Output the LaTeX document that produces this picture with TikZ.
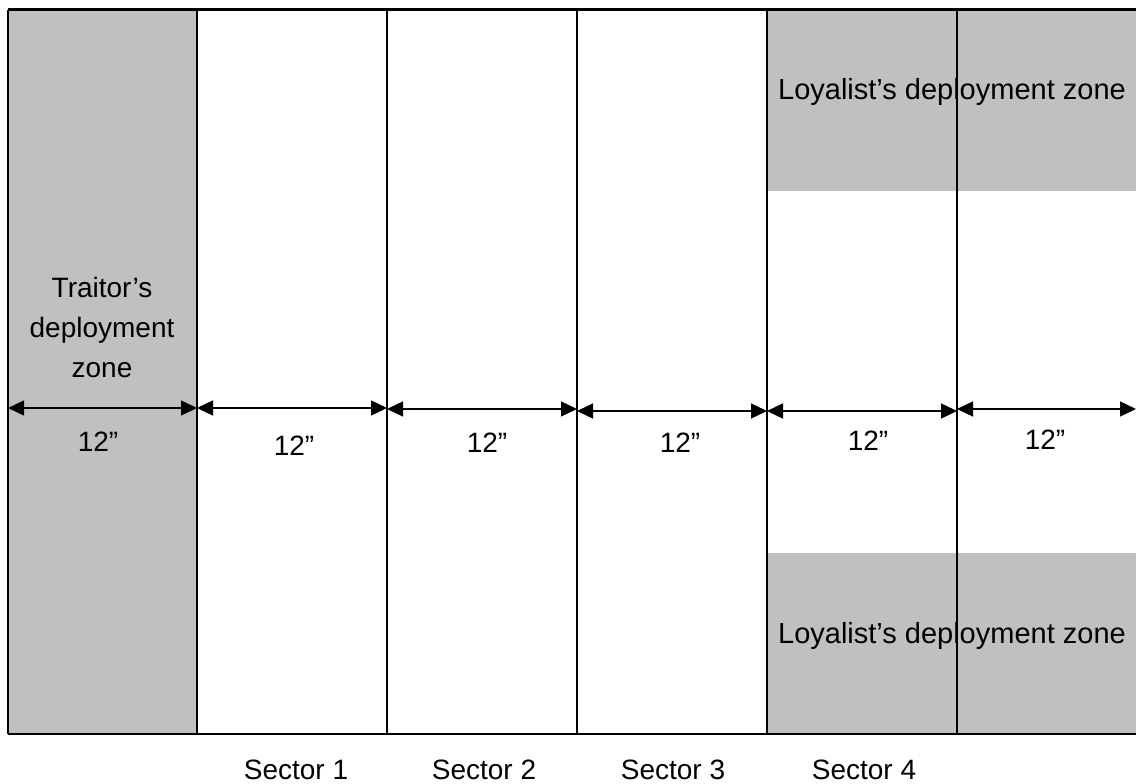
\documentclass[tikz,border=0pt]{standalone}
\usepackage{fontspec}
\setmainfont{Liberation Sans}
\usetikzlibrary{arrows.meta}
\definecolor{zonegray}{HTML}{C0C0C0}
\tikzset{
  zone/.style={fill=zonegray, draw=none},
  boardline/.style={line width=2pt, black},
  dim/.style={line width=1.4pt, {Triangle[length=16pt,width=15pt]}-{Triangle[length=16pt,width=15pt]}},
  lbl/.style={font=\fontsize{28}{33}\selectfont, inner sep=0pt},
  big/.style={font=\fontsize{29}{40}\selectfont, inner sep=0pt}
}
\begin{document}
\begin{tikzpicture}[x=1pt,y=-1pt]
\useasboundingbox (0,0) rectangle (1136,784);
\fill[white] (0,0) rectangle (1136,784);
% zones
\fill[zone] (8,10) rectangle (197,734);
\fill[zone] (767,10) rectangle (1136,191);
\fill[zone] (767,553) rectangle (1136,734);
% board lines
\draw[boardline, line width=3pt] (8,10) -- (1136,10);
\draw[boardline] (8,734) -- (1136,734);
\foreach \x in {8,197,387,577,767,957} \draw[boardline] (\x,10) -- (\x,734);
% texts
\node[lbl, align=center] (traitor) at (102,327) {Traitor’s\\[7pt]deployment\\[7pt]zone};
\node[big] (loytop) at (952,92) {Loyalist’s deployment zone};
\node[big] (loybot) at (952,636) {Loyalist’s deployment zone};
% dimension arrows
\coordinate (a0) at (8,408); \coordinate (b0) at (197,408);
\coordinate (a1) at (197,408); \coordinate (b1) at (387,408);
\coordinate (a2) at (387,409); \coordinate (b2) at (577,409);
\coordinate (a3) at (577,411); \coordinate (b3) at (767,411);
\coordinate (a4) at (767,411); \coordinate (b4) at (957,411);
\coordinate (a5) at (957,409); \coordinate (b5) at (1136,409);
\foreach \i in {0,...,5} \draw[dim] (a\i) -- (b\i);
\node[lbl] (d0) at (98,442) {12”};
\node[lbl] (d1) at (294,446) {12”};
\node[lbl] (d2) at (487,443) {12”};
\node[lbl] (d3) at (680,443) {12”};
\node[lbl] (d4) at (868,441) {12”};
\node[lbl] (d5) at (1045,440) {12”};
% sector labels
\node[lbl] (s1) at (296,770) {Sector 1};
\node[lbl] (s2) at (484,770) {Sector 2};
\node[lbl] (s3) at (673,770) {Sector 3};
\node[lbl] (s4) at (864,770) {Sector 4};
\end{tikzpicture}
\end{document}
